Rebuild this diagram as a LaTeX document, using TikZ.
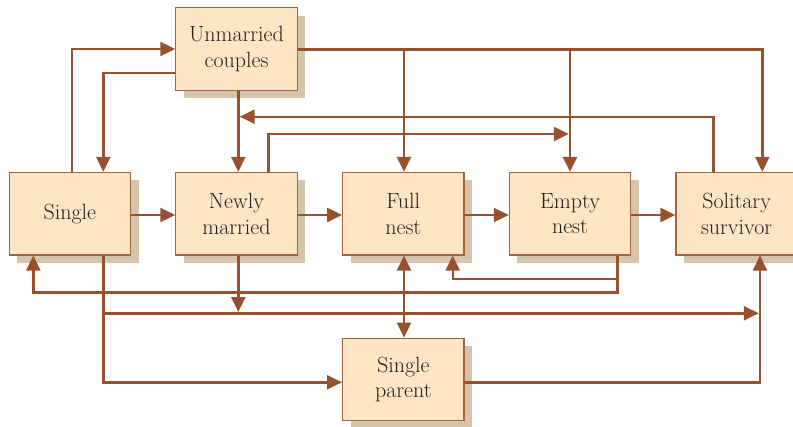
\documentclass[tikz,border=0pt]{standalone}
\usetikzlibrary{arrows.meta,shadows}
\definecolor{boxfill}{HTML}{FEE6C4}
\definecolor{boxline}{HTML}{A8623F}
\definecolor{flow}{HTML}{97512F}
\definecolor{shade}{HTML}{D3C4AB}
\definecolor{ink}{HTML}{231F20}
\begin{document}
\begin{tikzpicture}[x=1pt,y=-1pt,
  Head/.tip={Triangle[length=15pt,width=14pt]},
  stage/.style={draw=boxline, line width=1.2pt, fill=boxfill,
    minimum width=121.3pt, minimum height=82.5pt, inner sep=0pt,
    align=center, text=ink, font=\fontsize{22}{25.5}\selectfont,
    drop shadow={shadow xshift=8pt, shadow yshift=-8pt, fill=shade,
      opacity=1, draw=none}},
  flowline/.style={draw=flow, line width=2.4pt, -Head},
  twoway/.style={draw=flow, line width=2.4pt, Head-Head}]
\useasboundingbox (0,0) rectangle (793,426);

% life-cycle stages
\node[stage] (unm)    at (236.5,49)    {Unmarried\\couples};
\node[stage] (single) at (69.9,213.7)  {Single};
\node[stage] (newly)  at (236.5,213.7) {Newly\\married};
\node[stage] (full)   at (403.3,213.7) {Full\\nest};
\node[stage] (empty)  at (570,213.7)   {Empty\\nest};
\node[stage] (sol)    at (736.6,213.7) {Solitary\\survivor};
\node[stage] (sp)     at (403.3,379.5) {Single\\parent};

% junction points on other connectors
\coordinate (tapFull)  at (404,49.3);
\coordinate (tapEmpty) at (570,49.3);
\coordinate (mergeA)   at (239.7,116.7);
\coordinate (mergeB)   at (568.8,134);
\coordinate (tapBack)  at (617.3,279);
\coordinate (mergeC)   at (238.3,312);
\coordinate (tapLow)   at (103.3,313.3);
\coordinate (mergeD)   at (758.8,313.3);

% top connectors
\draw[flowline] (single.north -| 71.7,0) |- (unm.west);
\draw[flowline] (unm.west |- 0,72.7) -| (single.north -| 103.3,0);
\draw[flowline] (unm.south -| 238.3,0) -- (newly.north -| 238.3,0);
\draw[flowline] (unm.east |- 0,49.3) -| (sol.north -| 762.3,0);
\draw[flowline] (tapFull) -- (full.north -| 404,0);
\draw[flowline] (tapEmpty) -- (empty.north);
\draw[flowline] (sol.north -| 713.5,0) |- (mergeA);
\draw[flowline] (newly.north -| 268.3,0) |- (mergeB);

% main sequence
\draw[flowline] (single.east |- 0,215) -- (newly.west |- 0,215);
\draw[flowline] (newly.east |- 0,215) -- (full.west |- 0,215);
\draw[flowline] (full.east |- 0,215) -- (empty.west |- 0,215);
\draw[flowline] (empty.east |- 0,215) -- (sol.west |- 0,215);

% lower connectors
\draw[flowline] (empty.south -| 617.3,0) |- (33.3,292.3) -- (single.south -| 33.3,0);
\draw[flowline] (tapBack) -| (full.south -| 452.7,0);
\draw[flowline] (newly.south -| 238.3,0) -- (mergeC);
\draw[flowline] (single.south -| 103.3,0) |- (sp.west |- 0,382.3);
\draw[flowline] (tapLow) -- (mergeD);
\draw[twoway] (full.south -| 404,0) -- (sp.north -| 404,0);
\draw[flowline] (sp.east |- 0,382.3) -| (sol.south -| 760,0);
\end{tikzpicture}
\end{document}
